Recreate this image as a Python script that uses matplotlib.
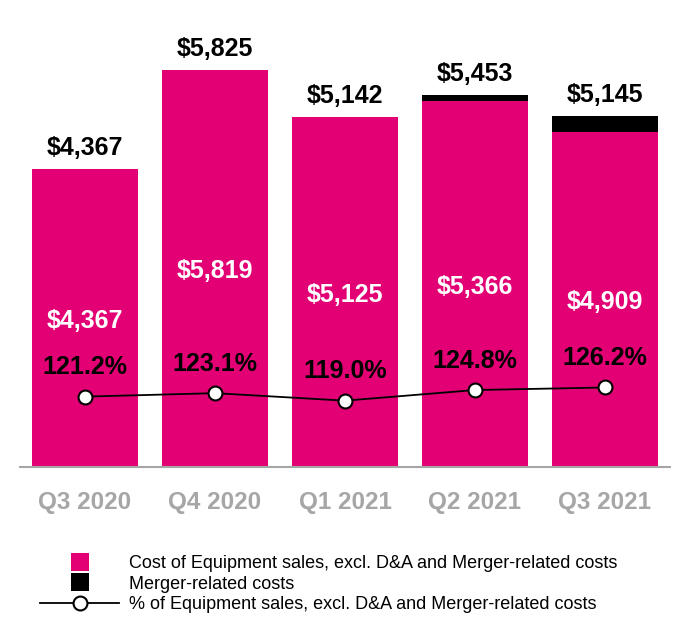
import numpy as np
import matplotlib.pyplot as plt
from matplotlib.patches import Patch, Rectangle
from matplotlib.lines import Line2D
from matplotlib.legend_handler import HandlerPatch

plt.rcParams['font.family'] = ['Liberation Sans', 'DejaVu Sans']

quarters = ['Q3 2020', 'Q4 2020', 'Q1 2021', 'Q2 2021', 'Q3 2021']
totals = [4367, 5825, 5142, 5453, 5145]
equipment = [4367, 5819, 5125, 5366, 4909]
merger = [0, 0, 0, 87, 236]   # segments too thin to show are left out, as in the source
pct = [121.2, 123.1, 119.0, 124.8, 126.2]

magenta = '#e20074'
grey = '#a6a6a6'


class SquareHandler(HandlerPatch):
    def create_artists(self, legend, orig_handle, xdescent, ydescent,
                       width, height, fontsize, trans):
        s = 13.0
        p = Rectangle((width / 2 - s / 2 - xdescent, height / 2 - s / 2 - ydescent), s, s,
                      facecolor=orig_handle.get_facecolor(), edgecolor='none',
                      transform=trans)
        return [p]


fig = plt.figure(figsize=(6.9, 6.4), dpi=100)
ax = fig.add_axes([20 / 690, 173 / 640, 650 / 690, 447 / 640])
ax2 = ax.twinx()

x = np.arange(len(quarters))
ax.bar(x, equipment, width=0.815, color=magenta)
ax.bar(x, merger, bottom=equipment, width=0.815, color='black')

ax.set_xlim(-0.5, 4.5)
ax.set_ylim(0, 6545)

for i in range(len(quarters)):
    top = equipment[i] + merger[i]
    ax.annotate('${:,}'.format(totals[i]), (x[i], top), xytext=(0, 15),
                textcoords='offset points', ha='center', va='center',
                fontsize=18, fontweight='bold', color='black')
    ax.annotate('${:,}'.format(equipment[i]), (x[i], equipment[i] / 2), xytext=(0, -2),
                textcoords='offset points', ha='center', va='center',
                fontsize=18, fontweight='bold', color='white')

ax2.plot(x, pct, '-o', color='black', linewidth=1.3, markersize=10,
         markerfacecolor='white', markeredgecolor='black', markeredgewidth=1.5)
ax2.set_ylim(82.75, 327)
for i in range(len(quarters)):
    ax2.annotate('{:.1f}%'.format(pct[i]), (x[i], pct[i]), xytext=(0, 21),
                 textcoords='offset points', ha='center', va='center',
                 fontsize=18, fontweight='bold', color='black')

for a in (ax, ax2):
    for s in ['top', 'left', 'right']:
        a.spines[s].set_visible(False)
    a.set_yticks([])
ax2.spines['bottom'].set_visible(False)
ax.spines['bottom'].set_color(grey)
ax.spines['bottom'].set_linewidth(1.5)

ax.set_xticks(x)
ax.set_xticklabels(quarters, fontsize=17.5, fontweight='bold', color=grey)
ax.tick_params(axis='x', length=0, pad=17)

handles = [Patch(facecolor=magenta), Patch(facecolor='black'),
           Line2D([], [], color='black', linewidth=1.3, marker='o', markersize=10,
                  markerfacecolor='white', markeredgecolor='black', markeredgewidth=1.5)]
labels = ['Cost of Equipment sales, excl. D&A and Merger-related costs',
          'Merger-related costs',
          '% of Equipment sales, excl. D&A and Merger-related costs']
fig.legend(handles, labels, loc='upper left', bbox_to_anchor=(40 / 690, 1 - 555 / 640),
           frameon=False, fontsize=13, handlelength=4.4, handletextpad=0.55,
           labelspacing=0.2, borderpad=0, borderaxespad=0,
           handler_map={Patch: SquareHandler()})

plt.savefig('out.png', dpi=100)
plt.close('all')
